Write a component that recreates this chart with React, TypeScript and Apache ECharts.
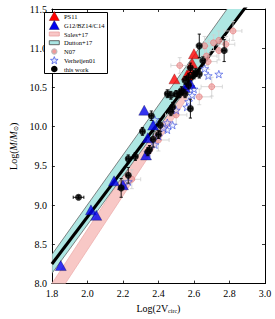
import React, { useEffect, useRef } from "react";
import * as echarts from "echarts";

// Fit line (thick black)
const fitX = [1.8, 2.9];
const fitY = [8.25, 11.55];
// Dutton+17 band
const duttonX = [1.8, 2.9];
const duttonLow = [8.13, 11.54];
const duttonHigh = [8.37, 11.86];
// Sales+17 band
const salesX = [1.8, 2.56];
const salesLow = [7.74, 10.36];
const salesHigh = [8.0, 10.62];

// this work
const workX = [1.95, 2.19, 2.23, 2.23, 2.27, 2.34, 2.31, 2.37, 2.40, 2.41, 2.36, 2.47, 2.48, 2.50, 2.53, 2.55, 2.58, 2.55, 2.57, 2.57, 2.58, 2.60, 2.61, 2.63, 2.65, 2.63, 2.77, 2.45, 2.52, 2.35, 2.47];
const workY = [9.10, 9.22, 9.38, 9.59, 9.62, 9.68, 9.94, 9.84, 9.90, 10.02, 10.14, 10.40, 10.25, 10.42, 10.46, 10.42, 10.23, 10.59, 10.53, 10.63, 10.75, 10.66, 10.69, 10.67, 10.84, 11.03, 10.97, 10.42, 10.42, 9.71, 10.19];
const workXErr = [0.03, 0.01, 0.01, 0.01, 0.01, 0.01, 0.01, 0.01, 0.01, 0.01, 0.01, 0.02, 0.01, 0.01, 0.01, 0.01, 0.01, 0.01, 0.01, 0.01, 0.01, 0.01, 0.01, 0.01, 0.01, 0.01, 0.01, 0.01, 0.01, 0.01, 0.01];
const workYErr = [0.02, 0.12, 0.10, 0.05, 0.05, 0.05, 0.05, 0.10, 0.05, 0.08, 0.06, 0.05, 0.06, 0.04, 0.05, 0.05, 0.12, 0.05, 0.05, 0.05, 0.06, 0.05, 0.05, 0.05, 0.05, 0.15, 0.14, 0.05, 0.05, 0.05, 0.05];

// PS11
const ps11X = [2.49, 2.58, 2.59, 2.60, 2.56];
const ps11Y = [10.61, 10.72, 10.81, 10.93, 10.66];

// G12/BZ14/C14
const gX = [1.85, 2.02, 2.05, 2.15, 2.20, 2.33, 2.32, 2.37, 2.34, 2.58, 2.55];
const gY = [8.23, 8.94, 8.87, 9.31, 9.26, 9.64, 10.21, 10.02, 9.86, 10.55, 10.50];

// Verheijen01
const vX = [2.23, 2.34, 2.38, 2.40, 2.45, 2.48, 2.50, 2.38, 2.43, 2.56, 2.57, 2.59, 2.58, 2.60, 2.66, 2.68, 2.74, 2.45];
const vY = [9.30, 9.67, 9.77, 9.88, 9.96, 10.02, 10.21, 10.09, 9.98, 10.25, 10.32, 10.40, 10.51, 10.48, 10.74, 10.65, 10.67, 10.05];

// N07
const nX = [2.25, 2.40, 2.50, 2.63, 2.70, 2.52, 2.67, 2.68, 2.66, 2.71, 2.74, 2.74, 2.78, 2.82];
const nY = [9.33, 9.83, 10.15, 10.38, 10.51, 10.78, 10.90, 10.83, 11.03, 11.07, 11.10, 10.97, 11.05, 11.22];
const nXErr = [0.05, 0.06, 0.06, 0.07, 0.06, 0.05, 0.06, 0.05, 0.05, 0.05, 0.06, 0.05, 0.05, 0.05];
const nYErr = [0.12, 0.14, 0.12, 0.10, 0.12, 0.10, 0.12, 0.10, 0.12, 0.10, 0.12, 0.12, 0.10, 0.12];

const xTickLabels = ["1.8", "2.0", "2.2", "2.4", "2.6", "2.8", "3.0"];
const yTickLabels = ["8.0", "8.5", "9.0", "9.5", "10.0", "10.5", "11.0", "11.5"];

const FONT = "Liberation Serif";
const STAR = "path://M0,-10 L2.35,-3.24 9.51,-3.09 3.8,1.24 5.88,8.09 0,4 -5.88,8.09 -3.8,1.24 -9.51,-3.09 -2.35,-3.24Z";

function starPoints(cx: number, cy: number, R: number, r: number) {
  const pts: number[][] = [];
  for (let i = 0; i < 10; i++) {
    const rad = i % 2 === 0 ? R : r;
    const a = -Math.PI / 2 + (i * Math.PI) / 5;
    pts.push([cx + rad * Math.cos(a), cy + rad * Math.sin(a)]);
  }
  return pts;
}

function bandRender(xs: number[], lo: number[], hi: number[], fill: string, stroke: string) {
  return (params: any, api: any) => {
    if (params.dataIndex !== 0) return null;
    const pts: number[][] = [];
    for (let i = 0; i < xs.length; i++) pts.push(api.coord([xs[i], lo[i]]));
    for (let i = xs.length - 1; i >= 0; i--) pts.push(api.coord([xs[i], hi[i]]));
    const cs = params.coordSys;
    return {
      type: "group",
      clipPath: { type: "rect", shape: { x: cs.x, y: cs.y, width: cs.width, height: cs.height } },
      children: [
        { type: "polygon", shape: { points: pts }, style: { fill, stroke, lineWidth: 0.8 } },
      ],
    };
  };
}

function errRender(color: string, cap: number, lw: number) {
  return (params: any, api: any) => {
    const x = api.value(0), y = api.value(1), xe = api.value(2), ye = api.value(3);
    const style = { stroke: color, lineWidth: lw };
    const children: any[] = [];
    if (xe > 0) {
      const l = api.coord([x - xe, y]);
      const r = api.coord([x + xe, y]);
      children.push({ type: "line", shape: { x1: l[0], y1: l[1], x2: r[0], y2: r[1] }, style });
      children.push({ type: "line", shape: { x1: l[0], y1: l[1] - cap, x2: l[0], y2: l[1] + cap }, style });
      children.push({ type: "line", shape: { x1: r[0], y1: r[1] - cap, x2: r[0], y2: r[1] + cap }, style });
    }
    if (ye > 0) {
      const t = api.coord([x, y + ye]);
      const b = api.coord([x, y - ye]);
      children.push({ type: "line", shape: { x1: t[0], y1: t[1], x2: b[0], y2: b[1] }, style });
      children.push({ type: "line", shape: { x1: t[0] - cap, y1: t[1], x2: t[0] + cap, y2: t[1] }, style });
      children.push({ type: "line", shape: { x1: b[0] - cap, y1: b[1], x2: b[0] + cap, y2: b[1] }, style });
    }
    return { type: "group", children };
  };
}

export default function App() {
  const ref = useRef<HTMLDivElement>(null);
  useEffect(() => {
    if (!ref.current) return;
    const chart = echarts.init(ref.current, null, { renderer: "svg" });
    const zip = (a: number[], b: number[]) => a.map((v, i) => [v, b[i]]);
    const legendItems = [
      "PS11",
      "G12/BZ14/C14",
      "Sales+17",
      "Dutton+17",
      "N07",
      "Verheijen01",
      "this work",
    ];
    const ly = [16, 25, 34, 42.7, 51.5, 60.3, 69];
    const lx = 54.3;
    const legendGraphics: any[] = [
      { type: "rect", shape: { x: 44.5, y: 12.5, width: 63, height: 61 }, style: { fill: "#fff", stroke: "#000", lineWidth: 1 }, z: 100 },
      { type: "polygon", shape: { points: [[lx - 5, ly[0] + 4.5], [lx + 5, ly[0] + 4.5], [lx, ly[0] - 4.5]] }, style: { fill: "#ff0000", stroke: "#600", lineWidth: 0.4 }, z: 101 },
      { type: "polygon", shape: { points: [[lx - 5, ly[1] + 4.5], [lx + 5, ly[1] + 4.5], [lx, ly[1] - 4.5]] }, style: { fill: "#0000ee", stroke: "#000040", lineWidth: 0.4 }, z: 101 },
      { type: "rect", shape: { x: lx - 5, y: ly[2] - 2, width: 10, height: 4 }, style: { fill: "#f8c6c6", stroke: "#e8a0a0", lineWidth: 0.8 }, z: 101 },
      { type: "rect", shape: { x: lx - 5, y: ly[3] - 2, width: 10, height: 4 }, style: { fill: "#a9e6e3", stroke: "#444", lineWidth: 0.8 }, z: 101 },
      { type: "circle", shape: { cx: lx, cy: ly[4], r: 2.6 }, style: { fill: "#f09a9a", stroke: "#bbbbbb", lineWidth: 1.2 }, z: 101 },
      { type: "polygon", shape: { points: starPoints(lx, ly[5] + 0.3, 4, 1.7) }, style: { fill: "#dde3ff", stroke: "#3a4ee0", lineWidth: 0.7 }, z: 101 },
      { type: "circle", shape: { cx: lx, cy: ly[6], r: 3.3 }, style: { fill: "#000" }, z: 101 },
    ];
    legendItems.forEach((t, i) => {
      legendGraphics.push({
        type: "text",
        x: 64,
        y: ly[i],
        z: 101,
        style: { text: t, fontFamily: FONT, fontSize: 6.5, fill: "#000", verticalAlign: "middle", align: "left" },
      });
    });

    const axisCommon = {
      axisLine: { show: true, onZero: false, lineStyle: { color: "#000", width: 1 } },
      axisTick: { show: true, inside: true, length: 3, lineStyle: { color: "#000", width: 0.8 } },
      splitLine: { show: false },
    };

    chart.setOption({
      animation: false,
      grid: { left: 43, top: 9, right: 10, bottom: 31, containLabel: false },
      xAxis: [
        {
          type: "value",
          min: 1.8,
          max: 3.0,
          interval: 0.2,
          ...axisCommon,
          axisLabel: {
            color: "#000",
            fontFamily: FONT,
            fontSize: 10,
            margin: 5,
            formatter: (v: number) => {
              const i = Math.round((v - 1.8) / 0.2);
              return xTickLabels[i] ?? "";
            },
          },
          name: "{a|Log(2V}{s|circ}{a|)}",
          nameLocation: "middle",
          nameGap: 15,
          nameTextStyle: {
            rich: {
              a: { fontFamily: FONT, fontSize: 10, color: "#000" },
              s: { fontFamily: FONT, fontSize: 6, color: "#000", padding: [5, 0, 0, 0] },
            },
          },
        },
        {
          type: "value",
          position: "top",
          min: 1.8,
          max: 3.0,
          interval: 0.2,
          ...axisCommon,
          axisLabel: { show: false },
        },
      ],
      yAxis: [
        {
          type: "value",
          min: 8.0,
          max: 11.5,
          interval: 0.5,
          ...axisCommon,
          axisLabel: {
            color: "#000",
            fontFamily: FONT,
            fontSize: 10,
            margin: 5,
            formatter: (v: number) => {
              const i = Math.round((v - 8.0) / 0.5);
              return yTickLabels[i] ?? "";
            },
          },
          name: "{a|Log(}{i|M}{a|/}{i|M}{s|⊙}{a|)}",
          nameLocation: "middle",
          nameGap: 29,
          nameRotate: 90,
          nameTextStyle: {
            rich: {
              a: { fontFamily: FONT, fontSize: 10, color: "#000" },
              i: { fontFamily: FONT, fontSize: 10, fontStyle: "italic", color: "#000" },
              s: { fontFamily: "DejaVu Sans", fontSize: 6, color: "#000", padding: [5, 0, 0, 0] },
            },
          },
        },
        {
          type: "value",
          position: "right",
          min: 8.0,
          max: 11.5,
          interval: 0.5,
          ...axisCommon,
          axisLabel: { show: false },
        },
      ],
      graphic: legendGraphics,
      series: [
        {
          type: "custom",
          name: "Sales+17",
          z: 1,
          data: [[salesX[0], salesLow[0]]],
          renderItem: bandRender(salesX, salesLow, salesHigh, "#f8c8c6", "#eeb0ae"),
          silent: true,
        },
        {
          type: "custom",
          name: "Dutton+17",
          z: 2,
          data: [[duttonX[0], duttonLow[0]]],
          renderItem: bandRender(duttonX, duttonLow, duttonHigh, "#aee7e3", "#666"),
          silent: true,
        },
        {
          type: "line",
          name: "fit",
          z: 3,
          data: zip(fitX, fitY),
          showSymbol: false,
          symbol: "none",
          clip: true,
          lineStyle: { color: "#000", width: 3 },
        },
        {
          type: "custom",
          name: "N07 err",
          z: 4,
          encode: { x: 0, y: 1 },
          data: nX.map((v, i) => [v, nY[i], nXErr[i], nYErr[i]]),
          renderItem: errRender("#cfcfcf", 2, 0.8),
        },
        {
          type: "scatter",
          name: "N07",
          z: 5,
          data: zip(nX, nY),
          symbol: "circle",
          symbolSize: 6,
          itemStyle: { color: "rgba(240,150,150,0.85)", borderColor: "#e07a7a", borderWidth: 0.8 },
        },
        {
          type: "scatter",
          name: "Verheijen01",
          z: 6,
          data: zip(vX, vY),
          symbol: STAR,
          symbolSize: 8,
          symbolKeepAspect: true,
          itemStyle: { color: "rgba(220,228,255,0.5)", borderColor: "#3a4ee0", borderWidth: 0.8 },
        },
        {
          type: "scatter",
          name: "G12/BZ14/C14",
          z: 7,
          data: zip(gX, gY),
          symbol: "triangle",
          symbolSize: [11, 10],
          itemStyle: { color: "#0000ee", borderColor: "#000040", borderWidth: 0.4 },
        },
        {
          type: "scatter",
          name: "PS11",
          z: 8,
          data: zip(ps11X, ps11Y),
          symbol: "triangle",
          symbolSize: [11, 10],
          itemStyle: { color: "#ff0000", borderColor: "#600", borderWidth: 0.4 },
        },
        {
          type: "custom",
          name: "work err",
          z: 9,
          encode: { x: 0, y: 1 },
          data: workX.map((v, i) => [v, workY[i], workXErr[i], workYErr[i]]),
          renderItem: errRender("#000", 1.6, 0.9),
        },
        {
          type: "scatter",
          name: "this work",
          z: 10,
          data: zip(workX, workY),
          symbol: "circle",
          symbolSize: 7,
          itemStyle: { color: "#000" },
        },
      ],
    });
    return () => chart.dispose();
  }, []);
  return <div ref={ref} style={{ width: 275, height: 319, position: "absolute", left: 0, top: 0 }} />;
}
